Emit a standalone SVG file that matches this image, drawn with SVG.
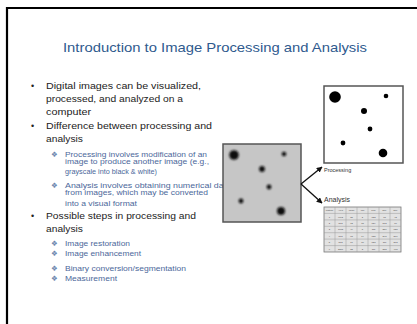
<svg xmlns="http://www.w3.org/2000/svg" width="417" height="324" viewBox="0 0 417 324">
  <style>
    .title { font-family: "Liberation Sans", Arial, sans-serif; font-size: 13.5px; fill: #2F5A8E; }
    .main { font-family: "Liberation Sans", Arial, sans-serif; font-size: 9.3px; fill: #222; }
    .sub { font-family: "Liberation Sans", Arial, sans-serif; font-size: 6.3px; fill: #4B679A; }
    .dia { font-family: "DejaVu Sans", sans-serif; font-size: 7.5px; fill: #6C86AE; }
    .dot { font-family: "Liberation Sans", Arial, sans-serif; font-size: 9px; fill: #222; }
    .lbl { font-family: "Liberation Sans", Arial, sans-serif; fill: #333; }
    .frame { stroke: #555; stroke-width: 1.5; }
    .cell { font-family: "Liberation Sans", Arial, sans-serif; font-size: 2.3px; fill: #444; text-anchor: middle; }
    .conn { fill: none; stroke: #111; stroke-width: 1.3; marker-end: url(#arrow); }
  </style>
  <defs>
    <marker id="arrow" viewBox="0 0 10 10" refX="9" refY="5" markerWidth="4.5" markerHeight="4.5" orient="auto">
      <path d="M0,0 L10,5 L0,10 z" fill="#111"/>
    </marker>
    <filter id="soft" x="-50%" y="-50%" width="200%" height="200%">
      <feGaussianBlur stdDeviation="0.8"/>
    </filter>
  </defs>

  <rect width="417" height="324" fill="#fff"/>
  <!-- slide border -->
  <path d="M7,324 V8 H417" fill="none" stroke="#000" stroke-width="2.2"/>

  <text class="title" x="215" y="52" text-anchor="middle" textLength="304" lengthAdjust="spacingAndGlyphs">Introduction to Image Processing and Analysis</text>

  <!-- bullet list -->
  <g id="bullets">
    <text class="dot" x="31" y="89">•</text>
    <text class="main" x="46" y="89" textLength="155" lengthAdjust="spacingAndGlyphs">Digital images can be visualized,</text>
    <text class="main" x="46" y="102" textLength="137" lengthAdjust="spacingAndGlyphs">processed, and analyzed on a</text>
    <text class="main" x="46" y="115" textLength="45" lengthAdjust="spacingAndGlyphs">computer</text>

    <text class="dot" x="31" y="129">•</text>
    <text class="main" x="46" y="129" textLength="166" lengthAdjust="spacingAndGlyphs">Difference between processing and</text>
    <text class="main" x="46" y="142" textLength="37" lengthAdjust="spacingAndGlyphs">analysis</text>

    <text class="dia" x="51" y="157">❖</text>
    <text class="sub" x="65" y="157" textLength="142" lengthAdjust="spacingAndGlyphs">Processing involves modification of an</text>
    <text class="sub" x="65" y="163.5" textLength="144" lengthAdjust="spacingAndGlyphs">image to produce another image (e.g.,</text>
    <text class="sub" x="65" y="174" textLength="92" lengthAdjust="spacingAndGlyphs">grayscale into black &amp; white)</text>

    <text class="dia" x="51" y="188">❖</text>
    <text class="sub" x="65" y="188" textLength="166" lengthAdjust="spacingAndGlyphs">Analysis involves obtaining numerical data</text>
    <text class="sub" x="65" y="195" textLength="143" lengthAdjust="spacingAndGlyphs">from images, which may be converted</text>
    <text class="sub" x="65" y="206" textLength="72" lengthAdjust="spacingAndGlyphs">into a visual format</text>

    <text class="dot" x="31" y="219">•</text>
    <text class="main" x="46" y="219" textLength="150" lengthAdjust="spacingAndGlyphs">Possible steps in processing and</text>
    <text class="main" x="46" y="232" textLength="37" lengthAdjust="spacingAndGlyphs">analysis</text>

    <text class="dia" x="51" y="246">❖</text>
    <text class="sub" x="65" y="246" textLength="65" lengthAdjust="spacingAndGlyphs">Image restoration</text>
    <text class="dia" x="51" y="256">❖</text>
    <text class="sub" x="65" y="256" textLength="76" lengthAdjust="spacingAndGlyphs">Image enhancement</text>
    <text class="dia" x="51" y="271">❖</text>
    <text class="sub" x="65" y="271" textLength="121" lengthAdjust="spacingAndGlyphs">Binary conversion/segmentation</text>
    <text class="dia" x="51" y="281">❖</text>
    <text class="sub" x="65" y="281" textLength="52" lengthAdjust="spacingAndGlyphs">Measurement</text>
  </g>

  <!-- grayscale source image -->
  <g id="source-image">
    <rect x="223" y="144" width="78" height="78" fill="#C6C6C6" class="frame"/>
    <g fill="#111" filter="url(#soft)">
      <circle cx="234" cy="155" r="4.8"/>
      <circle cx="284" cy="154" r="2.3"/>
      <circle cx="262" cy="169" r="2.9"/>
      <circle cx="269" cy="187" r="2.4"/>
      <circle cx="241" cy="201" r="2.4"/>
      <circle cx="281" cy="211" r="4"/>
    </g>
  </g>

  <!-- processed binary image -->
  <g id="processed-image">
    <rect x="324" y="86" width="79" height="77" fill="#fff" class="frame"/>
    <g fill="#000">
      <circle cx="335" cy="97" r="5.8"/>
      <circle cx="386" cy="96" r="2.3"/>
      <circle cx="364" cy="111" r="3"/>
      <circle cx="370" cy="129" r="2.4"/>
      <circle cx="343" cy="143" r="2.4"/>
      <circle cx="383" cy="153" r="4.3"/>
    </g>
    <text class="lbl" x="324" y="171.5" font-size="5.5" fill="#555">Processing</text>
  </g>

  <!-- measurement table -->
  <g id="analysis-table">
    <text class="lbl" x="324" y="202" font-size="7">Analysis</text>
    <rect x="324" y="207" width="77" height="45" fill="#E2E2E2" stroke="#777" stroke-width="0.8"/>
    <g stroke="#999" stroke-width="0.5">
      <line x1="335" y1="207" x2="335" y2="252"/>
      <line x1="346" y1="207" x2="346" y2="252"/>
      <line x1="357" y1="207" x2="357" y2="252"/>
      <line x1="368" y1="207" x2="368" y2="252"/>
      <line x1="379" y1="207" x2="379" y2="252"/>
      <line x1="390" y1="207" x2="390" y2="252"/>
      <line x1="324" y1="213.4" x2="401" y2="213.4"/>
      <line x1="324" y1="219.9" x2="401" y2="219.9"/>
      <line x1="324" y1="226.3" x2="401" y2="226.3"/>
      <line x1="324" y1="232.7" x2="401" y2="232.7"/>
      <line x1="324" y1="239.1" x2="401" y2="239.1"/>
      <line x1="324" y1="245.6" x2="401" y2="245.6"/>
    </g>
    <g class="cell">
      <text x="329.5" y="211">Particle</text><text x="340.5" y="211">Area</text><text x="351.5" y="211">Mean</text><text x="362.5" y="211">Min</text><text x="373.5" y="211">Max</text><text x="384.5" y="211">Circ.</text><text x="395.5" y="211">Circ.</text>
      <text x="329.5" y="217.5">1</text><text x="340.5" y="217.5">9792</text><text x="351.5" y="217.5">38</text><text x="362.5" y="217.5">2</text><text x="373.5" y="217.5">132</text><text x="384.5" y="217.5">68</text><text x="395.5" y="217.5">43</text>
      <text x="329.5" y="224">2</text><text x="340.5" y="224">812</text><text x="351.5" y="224">72</text><text x="362.5" y="224">18</text><text x="373.5" y="224">139</text><text x="384.5" y="224">812</text><text x="395.5" y="224">60</text>
      <text x="329.5" y="230.4">3</text><text x="340.5" y="230.4">1013</text><text x="351.5" y="230.4">49</text><text x="362.5" y="230.4">8</text><text x="373.5" y="230.4">118</text><text x="384.5" y="230.4">257</text><text x="395.5" y="230.4">138</text>
      <text x="329.5" y="236.8">4</text><text x="340.5" y="236.8">812</text><text x="351.5" y="236.8">68</text><text x="362.5" y="236.8">14</text><text x="373.5" y="236.8">135</text><text x="384.5" y="236.8">298</text><text x="395.5" y="236.8">277</text>
      <text x="329.5" y="243.2">5</text><text x="340.5" y="243.2">812</text><text x="351.5" y="243.2">61</text><text x="362.5" y="243.2">10</text><text x="373.5" y="243.2">128</text><text x="384.5" y="243.2">117</text><text x="395.5" y="243.2">373</text>
      <text x="329.5" y="249.7">6</text><text x="340.5" y="249.7">2377</text><text x="351.5" y="249.7">33</text><text x="362.5" y="249.7">3</text><text x="373.5" y="249.7">111</text><text x="384.5" y="249.7">382</text><text x="395.5" y="249.7">408</text>
    </g>
  </g>

  <!-- connectors -->
  <g id="connectors">
    <path class="conn" d="M301,184 L322,167"/>
    <path class="conn" d="M301,184 L322,203"/>
  </g>
</svg>
